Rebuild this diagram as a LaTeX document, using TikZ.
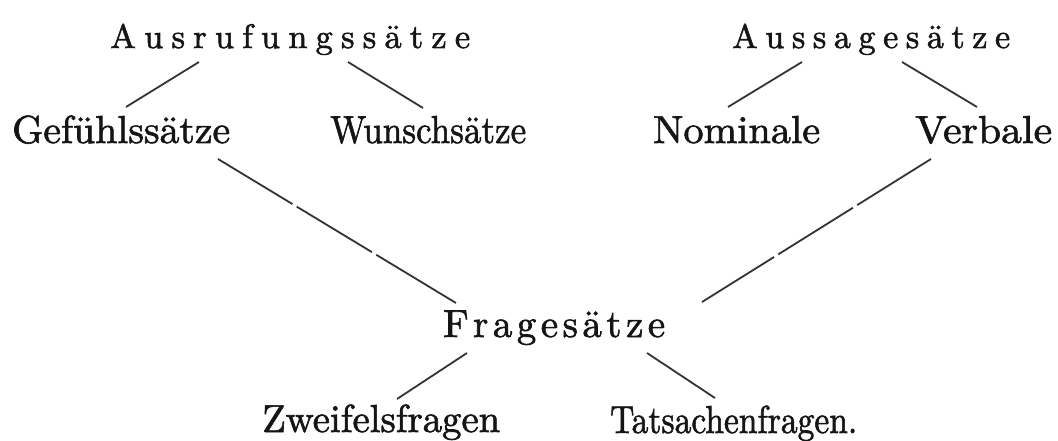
\documentclass[tikz,border=0pt]{standalone}
\usepackage{fontspec}
\setmainfont{lmroman10-regular.otf}[FakeBold=1.6]
\usepackage{graphicx}
\usetikzlibrary{calc}
\definecolor{ink}{HTML}{151515}
\definecolor{rule}{HTML}{333333}
\def\lsp#1#2{\def\lspk{#1}\lspa#2\relax}
\def\lspa#1#2{#1\ifx#2\relax\else\kern\lspk\expandafter\lspa\expandafter#2\fi}
\newcommand\fitw[2]{\resizebox{#1}{\height}{#2}}
\tikzset{
  lbl/.style={anchor=base west, inner sep=0pt, text=ink, font=\fontsize{39}{46}\selectfont},
  head/.style={anchor=base west, inner sep=0pt, text=ink, font=\fontsize{34}{40}\selectfont},
  bighead/.style={anchor=base west, inner sep=0pt, text=ink, font=\fontsize{39}{46}\selectfont},
  link/.style={draw=rule, line width=1.8pt},
  longrule/.style={link, dash pattern=on 87pt off 5pt on 88pt off 5pt on 300pt}
}
\begin{document}
\begin{tikzpicture}[x=1pt,y=-1pt]
\useasboundingbox (0,0) rectangle (1058,441);
\node[head] (ausruf) at (110,48) {\fitw{360pt}{\lsp{8pt}{Ausrufungssätze}}};
\node[head] (aussage) at (732,48) {\fitw{278pt}{\lsp{7.5pt}{Aussagesätze}}};
\node[lbl] (gefuehl) at (12,143) {\fitw{218pt}{Gefühlssätze}};
\node[lbl] (wunsch) at (330,143) {\fitw{196pt}{Wunschsätze}};
\node[lbl] (nominale) at (653,143) {\fitw{167pt}{Nominale}};
\node[lbl] (verbale) at (915,143) {\fitw{137pt}{Verbale}};
\node[bighead] (frage) at (443,337) {\fitw{222pt}{\lsp{4.5pt}{Fragesätze}}};
\node[lbl] (zweifel) at (262,432) {\fitw{238pt}{Zweifelsfragen}};
\node[lbl] (tatsache) at (610,433) {\fitw{247pt}{Tatsachenfragen.}};

\draw[link] ($(ausruf.base west)+(89,14)$) -- ($(gefuehl.base west)+(114,-36)$);
\draw[link] ($(ausruf.base west)+(238,14)$) -- ($(wunsch.base west)+(93,-35)$);
\draw[link] ($(aussage.base west)+(70,14)$) -- ($(nominale.base west)+(75,-36)$);
\draw[link] ($(aussage.base west)+(170,14)$) -- ($(verbale.base west)+(62,-36)$);
\draw[longrule] ($(gefuehl.base west)+(206,16)$) -- ($(frage.base west)+(13,-34)$);
\draw[longrule] ($(verbale.base west)+(16,16)$) -- ($(frage.base west)+(259,-35)$);
\draw[link] ($(frage.base west)+(24,16)$) -- ($(zweifel.base west)+(135,-33)$);
\draw[link] ($(frage.base west)+(204,16)$) -- ($(tatsache.base west)+(105,-35)$);
\end{tikzpicture}
\end{document}
